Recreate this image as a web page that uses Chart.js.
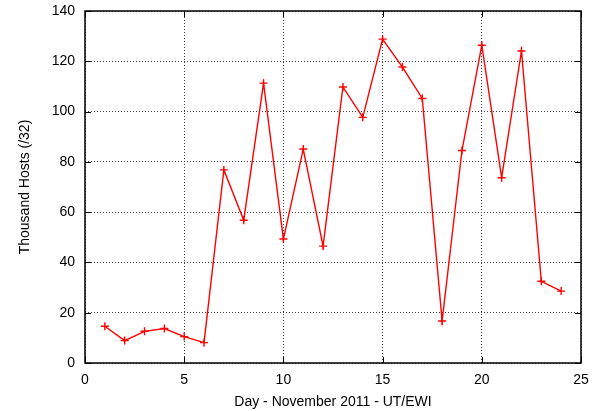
<!DOCTYPE html>
<html>
<head>
<meta charset="utf-8">
<script src="https://cdn.jsdelivr.net/npm/chart.js@4/dist/chart.umd.min.js"></script>
<style>
  html, body { margin: 0; padding: 0; background: #fff; }
  #wrap { width: 602px; height: 411px; }
</style>
</head>
<body>
<div id="wrap"><canvas id="myChart"></canvas></div>
<script>
// days of November 2011 and thousands of hosts per /32
var days = [1, 2, 3, 4, 5, 6, 7, 8, 9, 10, 11, 12, 13, 14, 15, 16, 17, 18, 19, 20, 21, 22, 23, 24];
var hosts = [14.6, 8.9, 12.6, 13.7, 10.5, 8.1, 76.8, 56.8, 111.3, 49.3, 85.1, 46.5,
             109.8, 97.7, 128.8, 117.7, 105.2, 16.7, 84.5, 126.4, 73.7, 124.1, 32.5, 28.6];
var xTicks = [0, 5, 10, 15, 20, 25];
var yTicks = [0, 20, 40, 60, 80, 100, 120, 140];

var points = days.map(function(d, i) { return { x: d, y: hosts[i] }; });

// gnuplot style frame with inward ticks on every side
var framePlugin = {
    id: 'frame',
    afterDraw: function(chart) {
        var ctx = chart.ctx;
        var a = chart.chartArea;
        var xs = chart.scales.x, ys = chart.scales.y;
        ctx.save();
        ctx.strokeStyle = '#000';
        ctx.lineWidth = 1;
        xTicks.forEach(function(v) {
            var px = Math.round(xs.getPixelForValue(v)) + 0.5;
            ctx.beginPath();
            ctx.moveTo(px, a.bottom); ctx.lineTo(px, a.bottom - 6);
            ctx.moveTo(px, a.top); ctx.lineTo(px, a.top + 6);
            ctx.stroke();
        });
        yTicks.forEach(function(v) {
            var py = Math.round(ys.getPixelForValue(v)) + 0.5;
            ctx.beginPath();
            ctx.moveTo(a.left, py); ctx.lineTo(a.left + 6, py);
            ctx.moveTo(a.right, py); ctx.lineTo(a.right - 6, py);
            ctx.stroke();
        });
        ctx.lineWidth = 1.5;
        ctx.strokeRect(a.left, a.top, a.right - a.left, a.bottom - a.top);
        ctx.restore();
    }
};

var ctx = document.getElementById('myChart').getContext('2d');
var myChart = new Chart(ctx, {
    type: 'line',
    data: {
        datasets: [{
            data: points,
            borderColor: '#ff0000',
            backgroundColor: '#ff0000',
            borderWidth: 1.4,
            pointStyle: 'cross',
            pointRadius: 4,
            pointBorderWidth: 1.4,
            tension: 0
        }]
    },
    options: {
        responsive: true,
        maintainAspectRatio: false,
        animation: false,
        layout: { padding: { left: 0, right: 21, top: 11, bottom: 0 } },
        plugins: {
            legend: { display: false },
            tooltip: { enabled: false }
        },
        scales: {
            x: {
                type: 'linear',
                min: 0,
                max: 25,
                afterBuildTicks: function(scale) {
                    scale.ticks = xTicks.map(function(v) { return { value: v }; });
                },
                afterFit: function(scale) {
                    scale.height = 48;
                    scale.paddingLeft = 0;
                    scale.paddingRight = 0;
                },
                border: { display: false, dash: [1, 2] },
                grid: {
                    color: '#444',
                    lineWidth: 1,
                    drawTicks: false
                },
                ticks: {
                    color: '#000',
                    padding: 9,
                    maxRotation: 0,
                    font: { family: 'Liberation Sans', size: 14 }
                },
                title: {
                    display: true,
                    text: 'Day - November 2011 - UT/EWI',
                    color: '#000',
                    padding: { top: 2, bottom: 0 },
                    font: { family: 'Liberation Sans', size: 14 }
                }
            },
            y: {
                min: 0,
                max: 140,
                afterBuildTicks: function(scale) {
                    scale.ticks = yTicks.map(function(v) { return { value: v }; });
                },
                afterFit: function(scale) {
                    scale.width = 85;
                    scale.paddingTop = 0;
                    scale.paddingBottom = 0;
                },
                border: { display: false, dash: [1, 2] },
                grid: {
                    color: '#444',
                    lineWidth: 1,
                    drawTicks: false
                },
                ticks: {
                    color: '#000',
                    padding: 10,
                    font: { family: 'Liberation Sans', size: 14 }
                },
                title: {
                    display: true,
                    text: 'Thousand Hosts (/32)',
                    color: '#000',
                    padding: { top: 17, bottom: 0 },
                    font: { family: 'Liberation Sans', size: 14 }
                }
            }
        }
    },
    plugins: [framePlugin]
});
</script>
</body>
</html>
